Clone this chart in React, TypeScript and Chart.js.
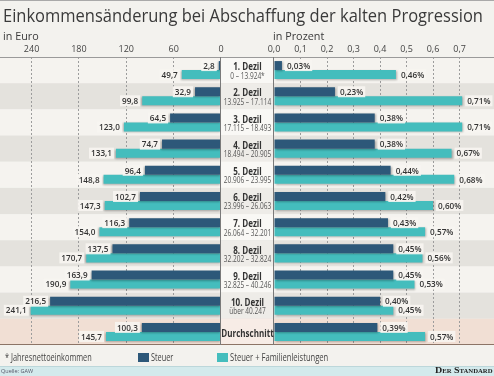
import React, { useEffect, useLayoutEffect, useRef } from 'react';
import { Chart, registerables } from 'chart.js';

Chart.register(...registerables);

// ---------- data ----------
const categories = [
  '1. Dezil', '2. Dezil', '3. Dezil', '4. Dezil', '5. Dezil', '6. Dezil',
  '7. Dezil', '8. Dezil', '9. Dezil', '10. Dezil', 'Durchschnitt',
];
const incomeRanges = [
  '0 – 13.924*', '13.925 – 17.114', '17.115 – 18.493', '18.494 – 20.905',
  '20.906 – 23.995', '23.996 – 26.063', '26.064 – 32.201', '32.202 – 32.824',
  '32.825 – 40.246', 'über 40.247', '',
];
const steuerEuro = [2.8, 32.9, 64.5, 74.7, 96.4, 102.7, 116.3, 137.5, 163.9, 216.5, 100.3];
const steuerFamilieEuro = [49.7, 99.8, 123.0, 133.1, 148.8, 147.3, 154.0, 170.7, 190.9, 241.1, 145.7];
const steuerProzent = [0.03, 0.23, 0.38, 0.38, 0.44, 0.42, 0.43, 0.45, 0.45, 0.40, 0.39];
const steuerFamilieProzent = [0.46, 0.71, 0.71, 0.67, 0.68, 0.60, 0.57, 0.56, 0.53, 0.45, 0.57];
const euroTickValues = [0, 60, 120, 180, 240];
const prozentTickValues = [0, 0.1, 0.2, 0.3, 0.4, 0.5, 0.6, 0.7];
const seriesNames = ['Steuer', 'Steuer + Familienleistungen'];

// ---------- layout / style ----------
const W = 494;
const H = 376;
const LEFT_ZERO = 221;
const RIGHT_ZERO = 274;
const AREA_TOP = 57;
const AREA_BOTTOM = 345;
const AXIS_H = 17;
const DARK = '#2d5879';
const CYAN = '#44bdbd';
const FONT = '"Open Sans", "Noto Sans", sans-serif';

function fitted(ctx: CanvasRenderingContext2D, text: string, x: number, y: number, font: string,
  color: string, squeeze: number, align: CanvasTextAlign) {
  ctx.font = font;
  ctx.fillStyle = color;
  ctx.textAlign = align;
  ctx.textBaseline = 'middle';
  const w = ctx.measureText(text).width;
  ctx.fillText(text, x, y, w * squeeze);
}

const rowsPlugin = {
  id: 'rowsPlugin',
  beforeDraw(chart: any) {
    const { ctx } = chart;
    const y = chart.scales.y;
    const x0 = chart.scales.x.getPixelForValue(0);
    const step = y.getPixelForValue(1) - y.getPixelForValue(0);
    const n = categories.length;
    ctx.save();
    for (let i = 0; i < n; i++) {
      const c = y.getPixelForValue(i);
      const top = c - step / 2;
      const avg = i === n - 1;
      ctx.fillStyle = avg ? '#f1dfd4' : i % 2 === 0 ? '#f5f3ef' : '#e4e2dd';
      ctx.fillRect(0, top, W, step);
      ctx.fillStyle = avg ? '#f7ece6' : i % 2 === 0 ? '#f9f8f5' : '#eeece8';
      ctx.fillRect(x0, top, RIGHT_ZERO - x0, step);
    }
    ctx.restore();
  },
  afterDraw(chart: any) {
    const { ctx, chartArea } = chart;
    const y = chart.scales.y;
    const x0 = chart.scales.x.getPixelForValue(0);
    ctx.save();
    ctx.strokeStyle = '#9a9a9a';
    ctx.lineWidth = 1;
    ctx.beginPath();
    ctx.moveTo(0, Math.round(chartArea.top) + 0.5);
    ctx.lineTo(W, Math.round(chartArea.top) + 0.5);
    ctx.stroke();
    ctx.strokeStyle = '#8c7466';
    ctx.beginPath();
    ctx.moveTo(0, Math.round(chartArea.bottom) - 0.5);
    ctx.lineTo(W, Math.round(chartArea.bottom) - 0.5);
    ctx.stroke();
    ctx.strokeStyle = '#7a7a7a';
    ctx.beginPath();
    ctx.moveTo(Math.round(x0) - 0.5, chartArea.top);
    ctx.lineTo(Math.round(x0) - 0.5, chartArea.bottom);
    ctx.moveTo(RIGHT_ZERO - 0.5, chartArea.top);
    ctx.lineTo(RIGHT_ZERO - 0.5, chartArea.bottom);
    ctx.stroke();
    const cx = (x0 + RIGHT_ZERO) / 2;
    categories.forEach((cat, i) => {
      const yc = y.getPixelForValue(i);
      const range = incomeRanges[i];
      if (range) {
        fitted(ctx, cat, cx, yc - 3, `700 11px ${FONT}`, '#333', 0.73, 'center');
        fitted(ctx, range, cx, yc + 6, `400 8.5px ${FONT}`, '#555', 0.77, 'center');
      } else {
        fitted(ctx, cat, cx, yc + 2, `700 11px ${FONT}`, '#333', 0.73, 'center');
      }
    });
    ctx.restore();
  },
};

function makeBarPlugin(side: 'left' | 'right') {
  return {
    id: 'barDeco',
    beforeDatasetsDraw(chart: any) {
      const ctx = chart.ctx;
      ctx.save();
      ctx.shadowColor = 'rgba(0,0,0,0.28)';
      ctx.shadowBlur = 2;
      ctx.shadowOffsetX = side === 'left' ? -1 : 1;
      ctx.shadowOffsetY = 1;
    },
    afterDatasetsDraw(chart: any) {
      const ctx = chart.ctx;
      ctx.restore();
      ctx.save();
      chart.data.datasets.forEach((ds: any, di: number) => {
        const meta = chart.getDatasetMeta(di);
        meta.data.forEach((bar: any, i: number) => {
          const v = ds.data[i] as number;
          const text = side === 'left'
            ? v.toFixed(1).replace('.', ',')
            : v.toFixed(2).replace('.', ',') + '%';
          ctx.font = `600 9.5px ${FONT}`;
          const w = ctx.measureText(text).width * 0.86;
          const x = side === 'left' ? bar.x - 4 : bar.x + 5;
          const bx = side === 'left' ? x - w - 2 : x - 2;
          ctx.fillStyle = 'rgba(247,245,241,0.9)';
          ctx.fillRect(bx, bar.y - 5.5, w + 4, 11);
          ctx.fillStyle = '#333';
          ctx.textAlign = side === 'left' ? 'right' : 'left';
          ctx.textBaseline = 'middle';
          ctx.fillText(text, x, bar.y + 0.5, w);
        });
      });
      ctx.restore();
    },
  };
}

function makeConfig(side: 'left' | 'right'): any {
  const isLeft = side === 'left';
  const values = isLeft ? [steuerEuro, steuerFamilieEuro] : [steuerProzent, steuerFamilieProzent];
  const tickValues = isLeft ? euroTickValues : prozentTickValues;
  return {
    type: 'bar',
    data: {
      labels: categories,
      datasets: [
        { label: seriesNames[0], data: values[0], backgroundColor: DARK },
        { label: seriesNames[1], data: values[1], backgroundColor: CYAN },
      ],
    },
    options: {
      indexAxis: 'y',
      responsive: false,
      animation: false,
      events: [],
      layout: {
        padding: {
          left: isLeft ? 0 : RIGHT_ZERO,
          right: isLeft ? W - LEFT_ZERO : 0,
          top: AREA_TOP - AXIS_H,
          bottom: H - AREA_BOTTOM,
        },
      },
      datasets: {
        bar: { categoryPercentage: 0.69, barPercentage: 1.0, borderWidth: 0 },
      },
      plugins: { legend: { display: false }, tooltip: { enabled: false }, title: { display: false } },
      scales: {
        y: { type: 'category', display: false },
        x: {
          type: 'linear',
          position: 'top',
          reverse: isLeft,
          min: 0,
          max: isLeft ? 280 : 0.83,
          afterBuildTicks: (s: any) => { s.ticks = tickValues.map((v) => ({ value: v })); },
          afterFit: (s: any) => { s.height = AXIS_H; s.paddingLeft = 0; s.paddingRight = 0; },
          ticks: {
            font: { family: FONT, size: 9 },
            color: '#444',
            padding: 2,
            maxRotation: 0,
            callback: (v: any) => (isLeft ? String(v) : Number(v).toFixed(1).replace('.', ',')),
          },
          grid: {
            drawTicks: false,
            lineWidth: 1,
            color: (c: any) => (c.tick && c.tick.value === 0 ? 'rgba(0,0,0,0)' : '#9c9c9c'),
          },
          border: { display: false, dash: [2, 2] },
        },
      },
    },
    plugins: isLeft ? [rowsPlugin, makeBarPlugin('left')] : [makeBarPlugin('right')],
  };
}

function FitText(props: { x: number; y: number; size: number; width?: number; weight?: number;
  color?: string; family?: string; style?: React.CSSProperties; children: React.ReactNode }) {
  const ref = useRef<HTMLSpanElement>(null);
  useLayoutEffect(() => {
    const el = ref.current;
    if (!el || !props.width) return;
    el.style.transform = 'none';
    const w = el.getBoundingClientRect().width;
    if (w > 0) el.style.transform = `scaleX(${props.width / w})`;
  });
  return (
    <span
      ref={ref}
      style={{
        position: 'absolute', left: props.x, top: props.y, fontSize: props.size,
        lineHeight: `${props.size}px`, fontWeight: props.weight ?? 400, color: props.color ?? '#333',
        fontFamily: props.family ?? FONT, whiteSpace: 'nowrap', transformOrigin: '0 0',
        ...(props.style || {}),
      }}
    >
      {props.children}
    </span>
  );
}

export default function App() {
  const leftRef = useRef<HTMLCanvasElement>(null);
  const rightRef = useRef<HTMLCanvasElement>(null);

  useLayoutEffect(() => {
    document.body.style.margin = '0';
  }, []);

  useEffect(() => {
    const l = new Chart(leftRef.current as HTMLCanvasElement, makeConfig('left'));
    const r = new Chart(rightRef.current as HTMLCanvasElement, makeConfig('right'));
    return () => { l.destroy(); r.destroy(); };
  }, []);

  return (
    <div style={{ position: 'relative', width: W, height: H, overflow: 'hidden', background: '#f3f2ee' }}>
      <div style={{ position: 'absolute', left: 0, top: 0, width: W, height: 1, background: '#a9a9a9' }} />
      <canvas ref={leftRef} width={W} height={H} style={{ position: 'absolute', left: 0, top: 0 }} />
      <canvas ref={rightRef} width={W} height={H} style={{ position: 'absolute', left: 0, top: 0 }} />
      <FitText x={3} y={6} size={19} width={480} color="#3a3a3a">
        Einkommensänderung bei Abschaffung der kalten Progression
      </FitText>
      <FitText x={3} y={29.5} size={11} width={35.7} color="#3a3a3a">in Euro</FitText>
      <FitText x={272.7} y={29.5} size={11} width={51.3} color="#3a3a3a">in Prozent</FitText>

      <FitText x={5} y={351.8} size={10} width={86.7} color="#444">* Jahresnettoeinkommen</FitText>
      <div style={{ position: 'absolute', left: 138, top: 353, width: 11, height: 9, background: DARK }} />
      <FitText x={151} y={351.8} size={10} width={22.3} color="#444">{seriesNames[0]}</FitText>
      <div style={{ position: 'absolute', left: 217, top: 353, width: 11, height: 9, background: CYAN }} />
      <FitText x={230} y={351.8} size={10} width={98.3} color="#444">{seriesNames[1]}</FitText>

      <div style={{ position: 'absolute', left: 0, top: 366, width: W, height: 10, background: '#d3eaec', borderTop: '1px solid #bcd7da', boxSizing: 'border-box' }} />
      <FitText x={1} y={367.5} size={6} width={32} color="#556">Quelle: GAW</FitText>
      <FitText x={435} y={366} size={9} width={57.5} weight={700} color="#222"
        family='"Liberation Serif", "DejaVu Serif", serif' style={{ fontVariant: 'small-caps' }}>
        Der Standard
      </FitText>
    </div>
  );
}
